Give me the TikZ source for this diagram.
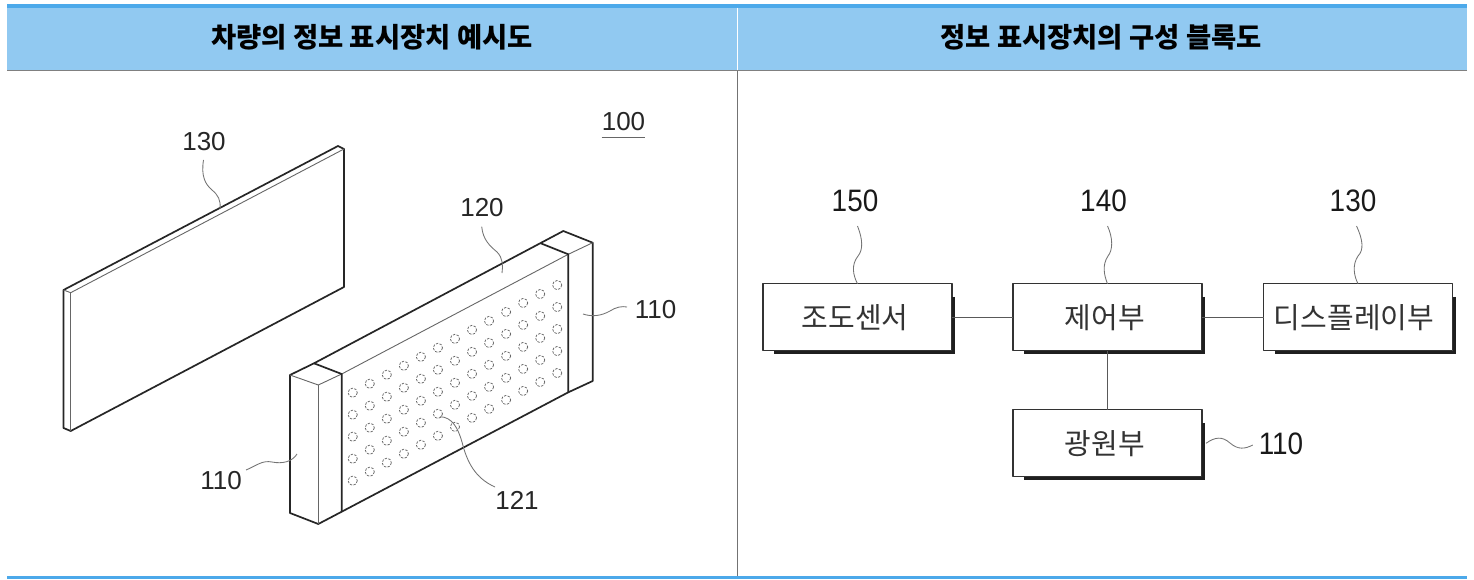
\documentclass[tikz,border=0pt]{standalone}
\usepackage{fontspec}
\setmainfont{Liberation Sans}
\newfontfamily\kr{Noto Sans CJK KR}
\definecolor{headblue}{HTML}{91C9F1}
\definecolor{edgeblue}{HTML}{4CA9EA}
\begin{document}
\begin{tikzpicture}[x=1pt,y=-1pt,line join=round,
  thickln/.style={draw=black!85,line width=1.7pt},
  thinln/.style={draw=black!60,line width=.9pt},
  leader/.style={draw=black!55,line width=.85pt},
  hole/.style={draw=black!60,line width=.75pt,dash pattern=on 2.4pt off 1.4pt},
  headtext/.style={font=\kr\bfseries\fontsize{27.4}{27.4}\selectfont,inner sep=0pt,text=black},
  refleft/.style={font=\fontsize{26}{26}\selectfont,inner sep=0pt,text=black!85},
  refright/.style={font=\fontsize{31}{31}\selectfont,inner sep=0pt,text=black!90,xscale=.9},
  blockbox/.style={draw=black!80,line width=1.2pt,fill=white,minimum width=189pt,minimum height=67pt,inner sep=0pt,outer sep=0pt,font=\kr\fontsize{29}{29}\selectfont,text=black!80},
  boxshadow/.style={draw=black!88,line width=3pt,line join=miter},
  wire/.style={draw=black!65,line width=1.1pt}]
\useasboundingbox (0,0) rectangle (1474,580);
\fill[white] (0,0) rectangle (1474,580);
% table frame
\fill[headblue] (7,7) rectangle (1467,70);
\fill[edgeblue] (7,4) rectangle (1467,7.6);
\fill[edgeblue] (7,575.5) rectangle (1467,579);
\fill[black!50] (7,70) rectangle (1467,71.5);
\draw[white,line width=1pt] (737,7.6) -- (737,70);
\draw[black!55,line width=.9pt] (737,71.5) -- (737,575.5);
\node[headtext] (headL) at (372,37) {차량의 정보 표시장치 예시도};
\node[headtext] (headR) at (1101,37) {정보 표시장치의 구성 블록도};
% panel 130
\draw[thickln,fill=white] (63.5,290) -- (338,146) -- (344,149) -- (344,287) -- (70.7,431) -- (63.5,428) -- cycle;
\draw[thinln] (63.5,290) -- (70.7,292.7) -- (344,149);
\draw[thinln] (70.7,292.7) -- (70.7,431);
% block 120 / 110
\draw[thickln,fill=white] (290,375) -- (314,363.3) -- (563.3,231) -- (592.7,242.7) -- (592.7,381) -- (568.3,392.3) -- (341.7,511.7) -- (318.3,524) -- (290,513) -- cycle;
\draw[thinln] (290,375) -- (318.3,385) -- (341.7,374) -- (568.3,254.3) -- (592.7,242.7);
\draw[thinln] (318.3,385) -- (318.3,524);
\draw[thickln] (314,363.3) -- (341.7,374) -- (341.7,511.7);
\draw[thickln] (540.7,243.3) -- (568.3,254.3) -- (568.3,392.3);
\foreach \c in {0,...,12} \foreach \r in {0,...,4}
  \draw[hole] ({352.7+17.04*\c},{392.7-8.97*\c+22*\r}) circle[radius=4.6];
% labels, left
\node[refleft] (l130) at (204,142) {130};
\node[refleft] (l120) at (482,208) {120};
\node[refleft] (l110r) at (655.5,310) {110};
\node[refleft] (l110l) at (221,481) {110};
\node[refleft] (l121) at (517,500) {121};
\node[refleft] (l100) at (623.5,122) {100};
\draw[black!60,line width=1.1pt] ([yshift=-6pt]l100.south west) -- ([yshift=-6pt]l100.south east);
\coordinate (e130) at (220,209);
\coordinate (e120) at (502,273);
\coordinate (e110r) at (583,314);
\coordinate (e110l) at (297,454);
\coordinate (e121) at (440,416.7);
\coordinate (s130) at (203.5,160);
\coordinate (s120) at (481.7,226.7);
\coordinate (s110r) at (627,307);
\coordinate (s110l) at (246,470);
\coordinate (s121) at (495,487);
\draw[leader] (s130) .. controls (201,176) and (205,184) .. (212,190) .. controls (218,195) and (221,200) .. (e130);
\draw[leader] (s120) .. controls (483,240) and (490,246) .. (497,252) .. controls (503,258) and (503,266) .. (e120);
\draw[leader] (e110r) .. controls (592,317) and (601,316) .. (610,311) .. controls (616,307) and (622,306) .. (s110r);
\draw[leader] (s110l) .. controls (256,466) and (262,460) .. (272,462) .. controls (282,464) and (292,462) .. (e110l);
\draw[leader] (e121) .. controls (452,417) and (458,428) .. (462,442) .. controls (467,462) and (475,478) .. (s121);
% block diagram
\node[blockbox] (sensor) at (857.5,317.3) {조도센서\kern5pt};
\node[blockbox] (ctrl) at (1107.5,317.3) {제어부\kern5pt};
\node[blockbox] (disp) at (1358,317.3) {디스플레이부\kern8pt};
\node[blockbox] (power) at (1107.5,443.3) {광원부\kern5pt};
\foreach \n in {sensor,ctrl,disp,power}
  \draw[boxshadow] ([shift={(1.8,13)}]\n.north east) -- ([shift={(1.8,1.8)}]\n.south east) -- ([shift={(11,1.8)}]\n.south west);
\draw[wire] (sensor.east) -- (ctrl.west);
\draw[wire] (ctrl.east) -- (disp.west);
\draw[wire] (ctrl.south) -- (power.north);
\node[refright] (n150) at (855,201) {150};
\node[refright] (n140) at (1103.5,201) {140};
\node[refright] (n130) at (1353,201) {130};
\node[refright] (n110) at (1281,444) {110};
\coordinate (t150) at (857.5,226);
\coordinate (t140) at (1107.5,226);
\coordinate (t130) at (1356.5,226);
\coordinate (t110) at (1252.8,445);
\draw[leader] (t150) .. controls (863,240) and (863,250) .. (858,256) .. controls (851,265) and (853,275) .. (sensor.north);
\draw[leader] (t140) .. controls (1113,238) and (1113,250) .. (1108,256) .. controls (1102,265) and (1104,275) .. (ctrl.north);
\draw[leader] (t130) .. controls (1363,240) and (1364,250) .. (1358,256) .. controls (1352,265) and (1354,276) .. (disp.north);
\draw[leader] ([xshift=4pt]power.east) .. controls (1215,437) and (1222,436) .. (1230,443) .. controls (1238,450) and (1245,449) .. (t110);
\end{tikzpicture}
\end{document}
